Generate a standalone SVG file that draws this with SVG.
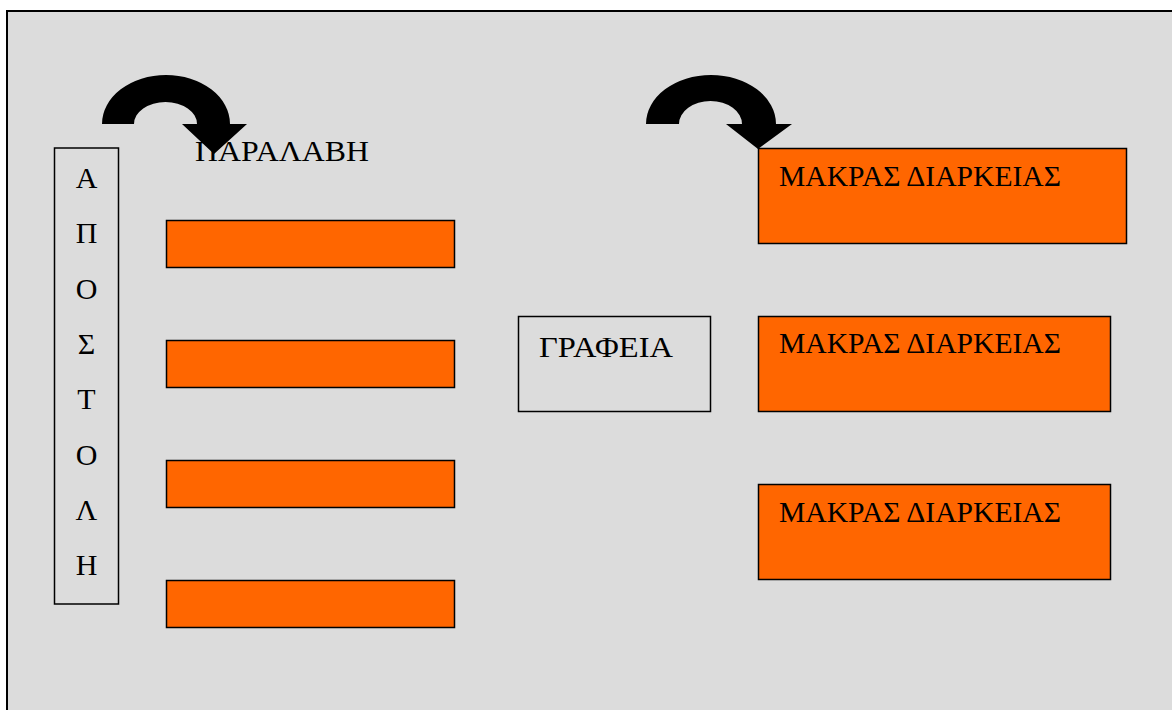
<svg xmlns="http://www.w3.org/2000/svg" width="1172" height="710" viewBox="0 0 1172 710">
<style>
text{font-family:"Liberation Serif","DejaVu Serif","Noto Serif",serif;font-size:30px;fill:#000}
.bar{fill:#ff6600;stroke:#000;stroke-width:1.5}
.box{fill:none;stroke:#000;stroke-width:1.5}
.arr{fill:#000;stroke:none}
</style>
<rect x="0" y="0" width="1172" height="710" fill="#fff"/>
<rect id="frame" x="7" y="11" width="1200" height="760" fill="#dcdcdc" stroke="#000" stroke-width="2"/>
<g id="connectors">
<path class="arr" d="M102,124 A64,49 0 0 1 230,124 L247,124 L214,154 L182,124 L197,124 A31.5,22 0 0 0 134,124 Z"/>
<path class="arr" d="M646,124 A65,49 0 0 1 776,124 L792,124 L758,149 L726,124 L742,124 A31.5,23 0 0 0 679,124 Z"/>
</g>
<g id="apostoli">
<rect class="box" x="54.5" y="148" width="64" height="456"/>
<text x="86.5" y="188" text-anchor="middle">Α</text>
<text x="86.5" y="243" text-anchor="middle">Π</text>
<text x="86.5" y="299" text-anchor="middle">Ο</text>
<text x="86.5" y="354" text-anchor="middle">Σ</text>
<text x="86.5" y="409" text-anchor="middle">Τ</text>
<text x="86.5" y="465" text-anchor="middle">Ο</text>
<text x="86.5" y="520" text-anchor="middle">Λ</text>
<text x="86.5" y="575" text-anchor="middle">Η</text>
</g>
<g id="paralavi"><text x="195" y="161" textLength="174" lengthAdjust="spacingAndGlyphs">ΠΑΡΑΛΑΒΗ</text></g>
<g id="bar1"><rect class="bar" x="166.5" y="220.5" width="288" height="47"/></g>
<g id="bar2"><rect class="bar" x="166.5" y="340.5" width="288" height="47"/></g>
<g id="bar3"><rect class="bar" x="166.5" y="460.5" width="288" height="47"/></g>
<g id="bar4"><rect class="bar" x="166.5" y="580.5" width="288" height="47"/></g>
<g id="grafeia">
<rect class="box" x="518.5" y="316.5" width="192" height="95"/>
<text x="539" y="357" textLength="134" lengthAdjust="spacingAndGlyphs">ΓΡΑΦΕΙΑ</text>
</g>
<g id="makras1">
<rect class="bar" x="758.5" y="148.5" width="368" height="95"/>
<text x="779" y="186" textLength="282" lengthAdjust="spacingAndGlyphs">ΜΑΚΡΑΣ ΔΙΑΡΚΕΙΑΣ</text>
</g>
<g id="makras2">
<rect class="bar" x="758.5" y="316.5" width="352" height="95"/>
<text x="779" y="353" textLength="282" lengthAdjust="spacingAndGlyphs">ΜΑΚΡΑΣ ΔΙΑΡΚΕΙΑΣ</text>
</g>
<g id="makras3">
<rect class="bar" x="758.5" y="484.5" width="352" height="95"/>
<text x="779" y="522" textLength="282" lengthAdjust="spacingAndGlyphs">ΜΑΚΡΑΣ ΔΙΑΡΚΕΙΑΣ</text>
</g>
</svg>
